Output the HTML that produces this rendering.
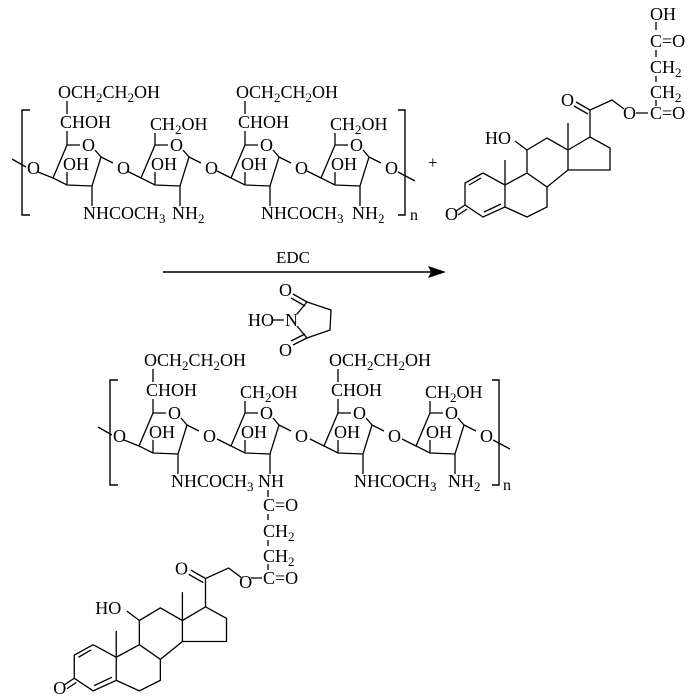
<!DOCTYPE html>
<html><head><meta charset="utf-8"><style>
html,body{margin:0;padding:0;background:#fff;}
svg{display:block;}
text{font-family:"Liberation Serif",serif;font-size:18px;fill:#000;}
.s{font-size:13px;}
</style></head><body>
<svg width="700" height="700" viewBox="0 0 700 700" xmlns="http://www.w3.org/2000/svg">
<g stroke="#000" stroke-width="1.4" fill="none">
<path d="M30,110 H22 V215 H30"/>
<path d="M398,110 H405 V215 H398"/>
<path d="M118,380 H110 V485 H118"/>
<path d="M492,380 H499 V485 H492"/>
</g>
<text x="410" y="220" style="font-size:16px">n</text>
<text x="503" y="490" style="font-size:16px">n</text>

<!-- ===== TOP POLYMER ===== -->
<g transform="translate(67,145)">
 <g stroke="#000" stroke-width="1.3" fill="none">
  <path d="M0,0 L13,0 M28,5 L34,12 L25,41 L0,40 L-14,33 L0,0 M0,40 L0,27 M34,12 L46,18 M-29,27 L-14,33 M-55,14 L-41,22 M25,41 L25,61 M0,-14 L0,0 M0,-44 L0,-31"/>
 </g>
 <text x="15" y="6">O</text><text x="-4" y="25">OH</text><text x="50" y="29">O</text><text x="-40" y="29">O</text>
 <text x="-7" y="-17">CHOH</text>
 <text x="-9" y="-47">OCH<tspan class="s" dy="4">2</tspan><tspan dy="-4">CH</tspan><tspan class="s" dy="4">2</tspan><tspan dy="-4">OH</tspan></text>
 <text x="16" y="74">NHCOCH<tspan class="s" dy="4">3</tspan></text>
</g>
<g transform="translate(155,145)">
 <g stroke="#000" stroke-width="1.3" fill="none">
  <path d="M0,0 L13,0 M28,5 L34,12 L25,41 L0,40 L-14,33 L0,0 M0,40 L0,27 M34,12 L46,18 M-28,26 L-14,33 M25,41 L25,61 M0,-12 L0,0"/>
 </g>
 <text x="15" y="6">O</text><text x="-4" y="25">OH</text><text x="50" y="29">O</text>
 <text x="-5" y="-15">CH<tspan class="s" dy="4">2</tspan><tspan dy="-4">OH</tspan></text>
 <text x="17" y="74">NH<tspan class="s" dy="4">2</tspan></text>
</g>
<g transform="translate(245,145)">
 <g stroke="#000" stroke-width="1.3" fill="none">
  <path d="M0,0 L13,0 M28,5 L34,12 L25,41 L0,40 L-14,33 L0,0 M0,40 L0,27 M34,12 L46,18 M-28,26 L-14,33 M25,41 L25,61 M0,-14 L0,0 M0,-44 L0,-31"/>
 </g>
 <text x="15" y="6">O</text><text x="-4" y="25">OH</text><text x="50" y="29">O</text>
 <text x="-7" y="-17">CHOH</text>
 <text x="-9" y="-47">OCH<tspan class="s" dy="4">2</tspan><tspan dy="-4">CH</tspan><tspan class="s" dy="4">2</tspan><tspan dy="-4">OH</tspan></text>
 <text x="16" y="74">NHCOCH<tspan class="s" dy="4">3</tspan></text>
</g>
<g transform="translate(335,145)">
 <g stroke="#000" stroke-width="1.3" fill="none">
  <path d="M0,0 L13,0 M28,5 L34,12 L25,41 L0,40 L-14,33 L0,0 M0,40 L0,27 M34,12 L46,18 M-28,26 L-14,33 M25,41 L25,61 M0,-12 L0,0 M63,27 L80,36"/>
 </g>
 <text x="15" y="6">O</text><text x="-4" y="25">OH</text><text x="50" y="29">O</text>
 <text x="-5" y="-15">CH<tspan class="s" dy="4">2</tspan><tspan dy="-4">OH</tspan></text>
 <text x="17" y="74">NH<tspan class="s" dy="4">2</tspan></text>
</g>

<text x="428" y="168" style="font-size:17px">+</text>

<!-- ===== TOP STEROID ===== -->
<g>
 <g stroke="#000" stroke-width="1.3" fill="none">
  <path d="M483,173 L465,183 L465,205 L483,217 L505,207 L505,185 L483,173 M505,185 L505,160"/>
  <path d="M481,178 L469,185 M484,212 L501,204"/>
  <path d="M465,205 L456,211 M467,209 L458,215"/>
  <path d="M505,207 L527,217 L547,207 L547,187 L527,173 L505,185"/>
  <path d="M527,173 L527,150 L547,138 L568,150 L568,170 L547,187 M527,150 L515,141 M568,150 L568,123"/>
  <path d="M568,150 L590,137 L610,148 L610,170 L568,170"/>
  <path d="M590,137 L590,110 L612,100 L624,109 M590,110 L576,102 M588,114 L574,106"/>
 </g>
 <text x="445" y="220">O</text>
 <text x="485" y="144">HO</text>
 <text x="561" y="106">O</text>
 <text x="623" y="119">O</text>
</g>
<g stroke="#000" stroke-width="1.3" fill="none">
 <path d="M656,22 L656,30 M656,50 L656,57 M656,76 L656,82 M656,100 L656,106 M636,113 L648,113"/>
</g>
<text x="650" y="20">OH</text>
<text x="650" y="47">C=O</text>
<text x="650" y="73">CH<tspan class="s" dy="4">2</tspan></text>
<text x="650" y="98">CH<tspan class="s" dy="4">2</tspan></text>
<text x="650" y="119">C=O</text>

<!-- ===== ARROW ===== -->
<line x1="163" y1="272" x2="432" y2="272" stroke="#000" stroke-width="1.4"/>
<path d="M446,272 L428,266 L431,272 L428,278 Z" fill="#000"/>
<text x="276" y="263" style="font-size:17px">EDC</text>
<g stroke="#000" stroke-width="1.3" fill="none">
 <path d="M297,314 L307,302 L331,310 L330,330 L307,338 L297,326"/>
 <path d="M307,302 L293,294 M305,306 L291,298"/>
 <path d="M307,338 L293,345 M305,334 L291,341"/>
 <path d="M272,320 L284,320"/>
</g>
<text x="279" y="296">O</text>
<text x="248" y="326">HO</text>
<text x="285" y="326">N</text>
<text x="279" y="356">O</text>

<!-- ===== BOTTOM POLYMER ===== -->
<g transform="translate(153,413)">
 <g stroke="#000" stroke-width="1.3" fill="none">
  <path d="M0,0 L13,0 M28,5 L34,12 L25,41 L0,40 L-14,33 L0,0 M0,40 L0,27 M34,12 L46,18 M-29,27 L-14,33 M-55,14 L-41,22 M25,41 L25,61 M0,-14 L0,0 M0,-44 L0,-31"/>
 </g>
 <text x="15" y="6">O</text><text x="-4" y="25">OH</text><text x="50" y="29">O</text><text x="-40" y="29">O</text>
 <text x="-7" y="-17">CHOH</text>
 <text x="-9" y="-47">OCH<tspan class="s" dy="4">2</tspan><tspan dy="-4">CH</tspan><tspan class="s" dy="4">2</tspan><tspan dy="-4">OH</tspan></text>
 <text x="18" y="74">NHCOCH<tspan class="s" dy="4">3</tspan></text>
</g>
<g transform="translate(245,413)">
 <g stroke="#000" stroke-width="1.3" fill="none">
  <path d="M0,0 L13,0 M28,5 L34,12 L25,41 L0,40 L-14,33 L0,0 M0,40 L0,27 M34,12 L46,18 M-28,26 L-14,33 M25,41 L25,61 M0,-12 L0,0"/>
 </g>
 <text x="15" y="6">O</text><text x="-4" y="25">OH</text><text x="50" y="29">O</text>
 <text x="-5" y="-15">CH<tspan class="s" dy="4">2</tspan><tspan dy="-4">OH</tspan></text>
 <text x="13" y="74">NH</text>
</g>
<g transform="translate(338,413)">
 <g stroke="#000" stroke-width="1.3" fill="none">
  <path d="M0,0 L13,0 M28,5 L34,12 L25,41 L0,40 L-14,33 L0,0 M0,40 L0,27 M34,12 L46,18 M-28,26 L-14,33 M25,41 L25,61 M0,-14 L0,0 M0,-44 L0,-31"/>
 </g>
 <text x="15" y="6">O</text><text x="-4" y="25">OH</text><text x="50" y="29">O</text>
 <text x="-7" y="-17">CHOH</text>
 <text x="-9" y="-47">OCH<tspan class="s" dy="4">2</tspan><tspan dy="-4">CH</tspan><tspan class="s" dy="4">2</tspan><tspan dy="-4">OH</tspan></text>
 <text x="16" y="74">NHCOCH<tspan class="s" dy="4">3</tspan></text>
</g>
<g transform="translate(430,413)">
 <g stroke="#000" stroke-width="1.3" fill="none">
  <path d="M0,0 L13,0 M28,5 L34,12 L25,41 L0,40 L-14,33 L0,0 M0,40 L0,27 M34,12 L46,18 M-28,26 L-14,33 M25,41 L25,61 M0,-12 L0,0 M63,27 L80,36"/>
 </g>
 <text x="15" y="6">O</text><text x="-4" y="25">OH</text><text x="50" y="29">O</text>
 <text x="-5" y="-15">CH<tspan class="s" dy="4">2</tspan><tspan dy="-4">OH</tspan></text>
 <text x="18" y="74">NH<tspan class="s" dy="4">2</tspan></text>
</g>

<g stroke="#000" stroke-width="1.3" fill="none">
 <path d="M268,490 L268,497 M268,514 L268,520 M268,540 L268,546 M268,564 L268,570 M251,578 L262,578"/>
</g>
<text x="263" y="511">C=O</text>
<text x="263" y="537">CH<tspan class="s" dy="4">2</tspan></text>
<text x="263" y="562">CH<tspan class="s" dy="4">2</tspan></text>
<text x="263" y="584">C=O</text>

<g transform="translate(-414,463) scale(1.05)">
 <g stroke="#000" stroke-width="1.25" fill="none">
  <path d="M483,173 L465,183 L465,205 L483,217 L505,207 L505,185 L483,173 M505,185 L505,160"/>
  <path d="M481,178 L469,185 M484,212 L501,204"/>
  <path d="M465,205 L456,211 M467,209 L458,215"/>
  <path d="M505,207 L527,217 L547,207 L547,187 L527,173 L505,185"/>
  <path d="M527,173 L527,150 L547,138 L568,150 L568,170 L547,187 M527,150 L515,141 M568,150 L568,123"/>
  <path d="M568,150 L590,137 L610,148 L610,170 L568,170"/>
  <path d="M590,137 L590,110 L612,100 L624,109 M590,110 L576,102 M588,114 L574,106"/>
 </g>
 <text x="445" y="220" style="font-size:17.2px">O</text>
 <text x="485" y="144" style="font-size:17.2px">HO</text>
 <text x="561" y="106" style="font-size:17.2px">O</text>
 <text x="622" y="119" style="font-size:17.2px">O</text>
</g>
</svg>
</body></html>
